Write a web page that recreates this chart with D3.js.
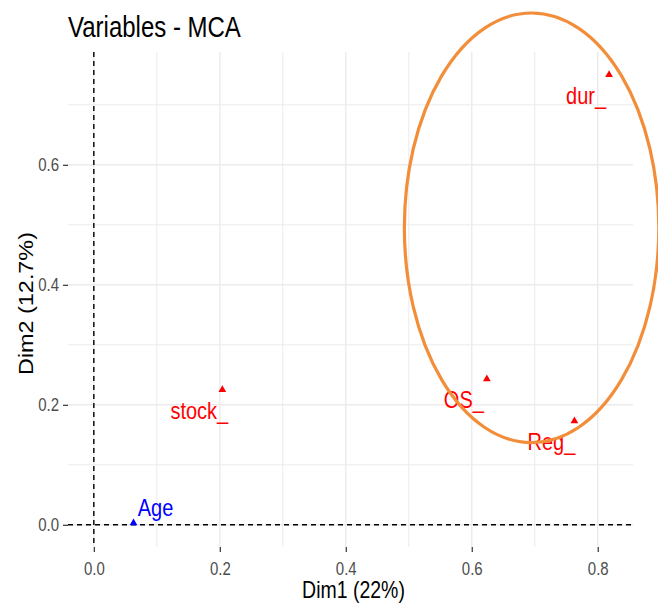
<!DOCTYPE html>
<html>
<head>
<meta charset="utf-8">
<script src="https://cdn.jsdelivr.net/npm/d3@7"></script>
<style>
  body { margin: 0; background: #fff; }
  text { font-family: "Liberation Sans", Arial, sans-serif; }
</style>
</head>
<body>
<div id="plot"></div>
<script>
// data
const labels = ["Age", "stock_", "OS_", "Reg_", "dur_"];
const dim1 = [0.063, 0.204, 0.624, 0.763, 0.818];
const dim2 = [0.003, 0.225, 0.243, 0.173, 0.750];
const groups = ["quanti", "quali", "quali", "quali", "quali"];
const xTicks = [0.0, 0.2, 0.4, 0.6, 0.8];
const yTicks = [0.0, 0.2, 0.4, 0.6];
const xMinor = [0.1, 0.3, 0.5, 0.7];
const yMinor = [0.1, 0.3, 0.5, 0.7];
// highlighted ellipse (centre and radii in data units)
const ellipseCentre = [0.695, 0.495];
const ellipseRadii = [0.202, 0.358];

const colour = {quanti: "#0000FF", quali: "#FF0000"};
// label nudges in px (repel-like placement)
const nudge = {Age: [22, -15], default: [-23, 21]};
// the original picture is a bit taller than wide, so text is stretched
const stretch = 1.2;

const W = 658, H = 604;
const margin = {top: 52, right: 25, bottom: 57, left: 68};
const width = W - margin.left - margin.right,
    height = H - margin.top - margin.bottom;

const svg = d3.select("#plot")
    .append("svg")
    .attr("width", W)
    .attr("height", H);

const g = svg.append("g")
    .attr("transform", "translate(" + margin.left + "," + margin.top + ")");

const x = d3.scaleLinear().domain([-0.041, 0.856]).range([0, width]);
const y = d3.scaleLinear().domain([-0.037, 0.788]).range([height, 0]);

// grid
const grid = g.append("g");
grid.selectAll(".vmin").data(xMinor).enter().append("line")
    .attr("x1", d => x(d)).attr("x2", d => x(d))
    .attr("y1", 0).attr("y2", height)
    .attr("stroke", "#EBEBEB").attr("stroke-width", 1);
grid.selectAll(".hmin").data(yMinor).enter().append("line")
    .attr("y1", d => y(d)).attr("y2", d => y(d))
    .attr("x1", 0).attr("x2", width)
    .attr("stroke", "#EBEBEB").attr("stroke-width", 1);
grid.selectAll(".vmaj").data(xTicks).enter().append("line")
    .attr("x1", d => x(d)).attr("x2", d => x(d))
    .attr("y1", 0).attr("y2", height)
    .attr("stroke", "#EBEBEB").attr("stroke-width", 1.4);
grid.selectAll(".hmaj").data(yTicks).enter().append("line")
    .attr("y1", d => y(d)).attr("y2", d => y(d))
    .attr("x1", 0).attr("x2", width)
    .attr("stroke", "#EBEBEB").attr("stroke-width", 1.4);

// axes
const xAxis = g.append("g")
    .attr("transform", "translate(0," + height + ")")
    .call(d3.axisBottom(x).tickValues(xTicks).tickFormat(d3.format(".1f")).tickSize(5));
const yAxis = g.append("g")
    .call(d3.axisLeft(y).tickValues(yTicks).tickFormat(d3.format(".1f")).tickSize(5).tickPadding(4));
[xAxis, yAxis].forEach(a => {
    a.select(".domain").remove();
    a.selectAll(".tick line").attr("stroke", "#333").attr("stroke-width", 1.2);
    a.selectAll(".tick text").attr("fill", "#4D4D4D").style("font-size", "15px");
});
xAxis.selectAll(".tick text")
    .attr("y", 0)
    .attr("transform", "translate(0,15) scale(1," + stretch + ")");
yAxis.selectAll(".tick text")
    .attr("transform", "scale(1," + stretch + ")");

// reference lines
g.append("line")
    .attr("x1", x(0)).attr("x2", x(0)).attr("y1", 0).attr("y2", height)
    .attr("stroke", "#000").attr("stroke-width", 1.4).attr("stroke-dasharray", "5,4");
g.append("line")
    .attr("y1", y(0)).attr("y2", y(0)).attr("x1", 0).attr("x2", width)
    .attr("stroke", "#000").attr("stroke-width", 1.4).attr("stroke-dasharray", "5,4");

// points
const tri = d3.symbol().type(d3.symbolTriangle).size(26);
g.selectAll(".pt").data(labels).enter().append("path")
    .attr("d", tri)
    .attr("transform", (d, i) => "translate(" + x(dim1[i]) + "," + y(dim2[i]) + ")")
    .attr("fill", (d, i) => colour[groups[i]]);

g.selectAll(".lab").data(labels).enter().append("text")
    .attr("transform", (d, i) => {
        const n = nudge[d] || nudge.default;
        return "translate(" + (x(dim1[i]) + n[0]) + "," + (y(dim2[i]) + n[1]) + ") scale(1," + stretch + ")";
    })
    .attr("text-anchor", "middle")
    .attr("dy", "0.35em")
    .attr("fill", (d, i) => colour[groups[i]])
    .style("font-size", "20px")
    .text(d => d);

// highlight ellipse, drawn over the panel and allowed past its edge
g.append("ellipse")
    .attr("cx", x(ellipseCentre[0]))
    .attr("cy", y(ellipseCentre[1]))
    .attr("rx", x(ellipseRadii[0]) - x(0))
    .attr("ry", y(0) - y(ellipseRadii[1]))
    .attr("fill", "none")
    .attr("stroke", "#F28D3A")
    .attr("stroke-width", 3.2);

// titles
svg.append("text")
    .attr("transform", "translate(68,37) scale(1," + stretch + ")")
    .style("font-size", "24px")
    .attr("fill", "#000")
    .text("Variables - MCA");
svg.append("text")
    .attr("transform", "translate(" + (margin.left + width / 2 + 3) + ",598) scale(1," + stretch + ")")
    .attr("text-anchor", "middle")
    .style("font-size", "19.5px")
    .text("Dim1 (22%)");
svg.append("text")
    .attr("transform", "translate(33," + (margin.top + height / 2 + 4) + ") rotate(-90) scale(" + stretch + ",1)")
    .attr("text-anchor", "middle")
    .style("font-size", "19.5px")
    .text("Dim2 (12.7%)");
</script>
</body>
</html>
